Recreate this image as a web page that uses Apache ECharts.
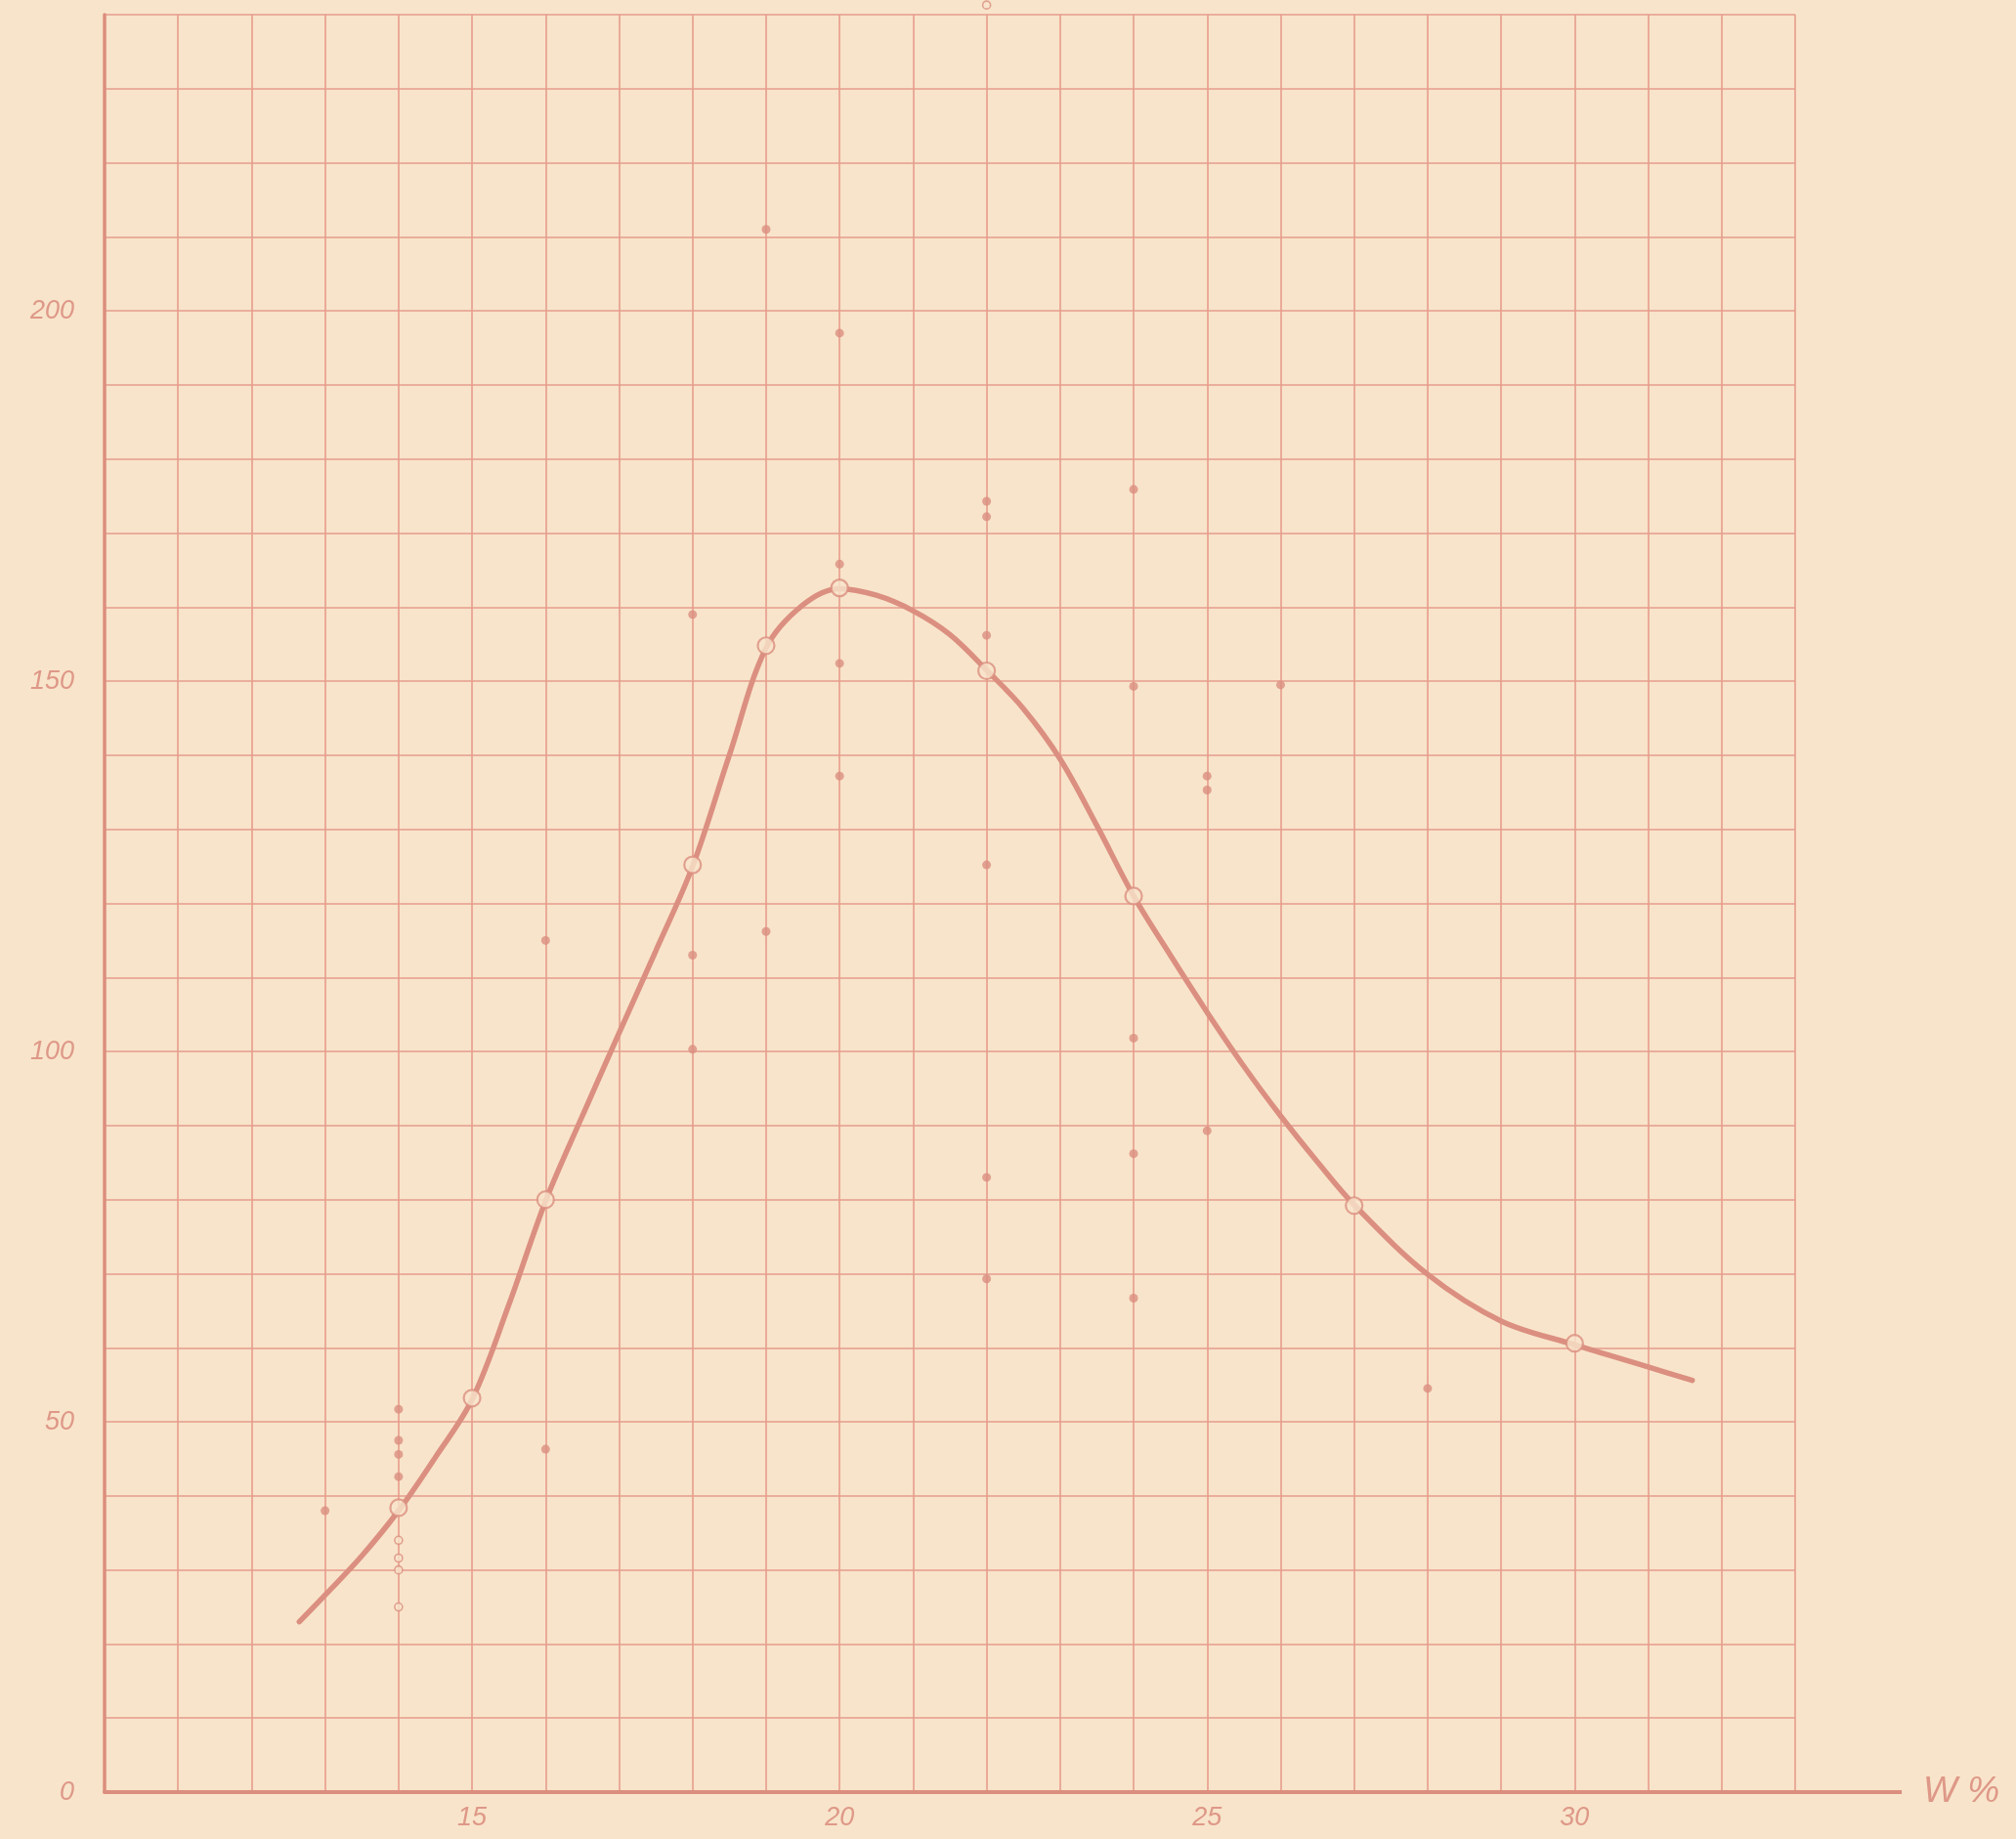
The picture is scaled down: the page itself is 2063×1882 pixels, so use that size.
<!DOCTYPE html>
<html>
<head>
<meta charset="utf-8">
<script src="https://cdn.jsdelivr.net/npm/echarts@6/dist/echarts.min.js"></script>
<style>
  html, body { margin: 0; padding: 0; background: #f8e4ca; }
  #chart { width: 2063px; height: 1882px; }
</style>
</head>
<body>
<div id="chart"></div>
<script>
// ---- data ----
const xTickLabels = [15, 20, 25, 30];
const yTickLabels = [0, 50, 100, 150, 200];

// smooth hand-drawn curve (W %, value)
const curvePoints = [
  [12.65, 23], [13, 26.6], [13.5, 31.9], [14, 38], [14.5, 45.2], [15, 53],
  [15.5, 65.8], [16, 79.8], [16.5, 91.3], [17, 102.5], [17.5, 113.6], [18, 125],
  [18.5, 140], [19, 154.5], [19.5, 160.3], [20, 162.5], [20.5, 161.6],
  [21, 159.5], [21.5, 156.3], [22, 151.5], [22.5, 146.3], [23, 139.5],
  [23.5, 130.5], [24, 121], [24.5, 113], [25, 105.3], [25.5, 98],
  [26, 91.3], [26.5, 85.1], [27, 79.3], [28, 69.9], [29, 63.6],
  [30, 60.4], [31, 57.4], [31.6, 55.6]
];

// open circles on the curve (mean values)
const meanPoints = [
  [14, 38.4], [15, 53.2], [16, 80], [18, 125.2], [19, 154.8], [20, 162.6],
  [22, 151.4], [24, 121], [27, 79.2], [30, 60.6]
];

// individual filled dots
const dotPoints = [
  [13, 38],
  [14, 51.7], [14, 47.5], [14, 45.6], [14, 42.6],
  [16, 115], [16, 46.3],
  [18, 159], [18, 113], [18, 100.3],
  [19, 211], [19, 116.2],
  [20, 197], [20, 165.8], [20, 152.4], [20, 137.2],
  [22, 174.3], [22, 172.2], [22, 156.2], [22, 125.2], [22, 83], [22, 69.3],
  [24, 175.9], [24, 149.3], [24, 101.8], [24, 86.2], [24, 66.7],
  [25, 137.2], [25, 135.3], [25, 89.3],
  [26, 149.5],
  [28, 54.5]
];

// small open circles
const smallCirclePoints = [
  [14, 34], [14, 31.6], [14, 30], [14, 25], [22, 241.3]
];

// ---- styling ----
const PAPER = '#f8e4ca';
const GRID = '#e69c8c';
const AXIS = '#dc8e7e';
const INK = '#db8f80';
const LABEL = '#de9888';
const labelFont = { color: LABEL, fontFamily: 'Liberation Sans', fontStyle: 'italic', fontSize: 27 };

const chart = echarts.init(document.getElementById('chart'), null, { renderer: 'canvas' });

const option = {
  backgroundColor: PAPER,
  animation: false,
  grid: { left: 107, top: 15, width: 1730, height: 1819, show: false },
  xAxis: {
    type: 'value', min: 10, max: 33, interval: 1,
    name: 'W %', nameLocation: 'end', nameGap: 131,
    nameTextStyle: { color: LABEL, fontFamily: 'Liberation Sans', fontStyle: 'italic', fontSize: 37, verticalAlign: 'middle', padding: [0, 0, 6, 0] },
    axisLine: { show: true, onZero: false, lineStyle: { color: AXIS, width: 4 } },
    axisTick: { show: false },
    axisLabel: Object.assign({ margin: 13, formatter: v => xTickLabels.includes(v) ? String(v) : '' }, labelFont),
    splitLine: { show: true, lineStyle: { color: GRID, width: 1.6 } }
  },
  yAxis: {
    type: 'value', min: 0, max: 240, interval: 10,
    axisLine: { show: true, onZero: false, lineStyle: { color: AXIS, width: 3.5 } },
    axisTick: { show: false },
    axisLabel: Object.assign({ margin: 31, formatter: v => yTickLabels.includes(v) ? String(v) : '' }, labelFont),
    splitLine: { show: true, lineStyle: { color: GRID, width: 1.6 } }
  },
  series: [
    {
      type: 'line', data: curvePoints, smooth: 0.35, showSymbol: false, z: 2,
      lineStyle: { color: INK, width: 5.5, cap: 'round' }
    },
    {
      type: 'scatter', data: meanPoints, symbol: 'circle', symbolSize: 17, z: 4,
      itemStyle: { color: PAPER, borderColor: INK, borderWidth: 2.2 }
    },
    {
      type: 'scatter', data: dotPoints, symbol: 'circle', symbolSize: 9, z: 4,
      itemStyle: { color: INK }
    },
    {
      type: 'scatter', data: smallCirclePoints, symbol: 'circle', symbolSize: 8, z: 4, clip: false,
      itemStyle: { color: PAPER, borderColor: INK, borderWidth: 1.6 }
    }
  ]
};
chart.setOption(option);

// extend the x axis line past the grid, using the chart's own scale
const p0 = chart.convertToPixel({ gridIndex: 0 }, [33, 0]);
const p1 = chart.convertToPixel({ gridIndex: 0 }, [34.45, 0]);
chart.setOption({
  graphic: [{
    type: 'line', z: 10,
    shape: { x1: p0[0], y1: p0[1], x2: p1[0], y2: p1[1] },
    style: { stroke: AXIS, lineWidth: 4 }
  }]
});
</script>
</body>
</html>
